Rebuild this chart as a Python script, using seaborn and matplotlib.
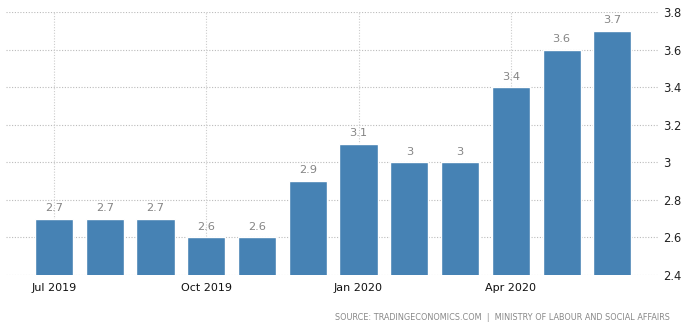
import matplotlib
matplotlib.use("Agg")
import matplotlib.pyplot as plt
import seaborn as sns
import pandas as pd

months = ["Jul 2019", "Aug 2019", "Sep 2019", "Oct 2019", "Nov 2019", "Dec 2019",
          "Jan 2020", "Feb 2020", "Mar 2020", "Apr 2020", "May 2020", "Jun 2020"]
values = [2.7, 2.7, 2.7, 2.6, 2.6, 2.9, 3.1, 3.0, 3.0, 3.4, 3.6, 3.7]
tick_months = ["Jul 2019", "Oct 2019", "Jan 2020", "Apr 2020"]
y_ticks = [2.4, 2.6, 2.8, 3.0, 3.2, 3.4, 3.6, 3.8]
y_tick_labels = ["2.4", "2.6", "2.8", "3", "3.2", "3.4", "3.6", "3.8"]
value_labels = ["2.7", "2.7", "2.7", "2.6", "2.6", "2.9", "3.1", "3", "3", "3.4", "3.6", "3.7"]

sns.set_style("white")
plt.rcParams['font.family'] = ['DejaVu Sans']

df = pd.DataFrame({"month": months, "value": values})

fig = plt.figure(figsize=(6.9, 3.27), dpi=100)
ax = fig.add_axes([6/690, 1-275/327, (658-6)/690, (275-12)/327])

sns.barplot(data=df, x="month", y="value", order=months, color="#4682b4",
            saturation=1, width=0.75, ax=ax, zorder=3)

ax.set_ylim(2.4, 3.8)
ax.set_xlim(-0.945, 11.9)
ax.set_yticks(y_ticks)
ax.set_yticklabels(y_tick_labels)
ax.yaxis.tick_right()
ax.tick_params(axis="y", length=0, pad=4, labelsize=8.3, labelcolor="#222222")

tick_pos = [months.index(m) for m in tick_months]
ax.set_xticks(tick_pos)
ax.set_xticklabels(tick_months)
ax.tick_params(axis="x", length=3, width=0.8, color="#cccccc", pad=3,
               labelsize=8, labelcolor="#111111")

ax.set_xlabel("")
ax.set_ylabel("")
for s in ax.spines.values():
    s.set_visible(False)

for y in y_ticks:
    ax.axhline(y, color="#bbbbbb", linestyle=(0, (1, 1.5)), linewidth=0.8, zorder=1)
for x in tick_pos:
    ax.axvline(x, color="#cccccc", linestyle=(0, (1, 1.5)), linewidth=0.8, zorder=1)

for i, (v, lab) in enumerate(zip(values, value_labels)):
    ax.text(i, v + 0.03, lab, ha="center", va="bottom", fontsize=8.2, color="#858585", zorder=4)

fig.text(670/690, 1-317/327, "SOURCE: TRADINGECONOMICS.COM  |  MINISTRY OF LABOUR AND SOCIAL AFFAIRS",
         ha="right", va="center", fontsize=5.9, color="#888888")

fig.savefig("out.png", dpi=100)
